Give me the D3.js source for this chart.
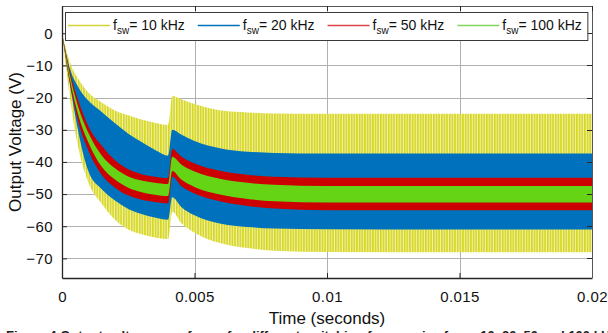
<!DOCTYPE html>
<html>
<head>
<meta charset="utf-8">
<script src="https://cdn.jsdelivr.net/npm/d3@7"></script>
<style>
  body { margin: 0; background: #fff; }
  svg { display: block; font-family: "Liberation Sans", Arial, sans-serif; }
</style>
</head>
<body>
<svg id="chart" width="608" height="333"></svg>
<script>
// envelope samples (upper / lower edge of each ripple band)
const times = [0, 0.0003, 0.0006, 0.001, 0.0015, 0.002, 0.0025, 0.003, 0.0035, 0.004,
               0.00416, 0.0045, 0.005, 0.006, 0.007, 0.008, 0.01, 0.015, 0.02];

const upper10 = [0, -9, -14, -18.5, -21.5, -24, -25.5, -26.8, -27.8, -28.5,
                 -19.5, -20.5, -22, -24, -24.6, -24.9, -25, -25, -25];
const lower10 = [0, -20, -35, -46.5, -53, -58, -61, -62.5, -63.5, -64,
                 -55.5, -59, -62, -65.3, -66.8, -67.6, -68, -68.1, -68.1];

const upper20 = [0, -11, -16.5, -21, -24.5, -28, -31.2, -33.8, -36.2, -38,
                 -30, -31.5, -33.5, -35.8, -36.8, -37.2, -37.4, -37.4, -37.4];
const lower20 = [0, -16, -30, -43, -48.5, -52, -54.6, -56.2, -57.3, -58,
                 -51, -54, -56.6, -59.2, -60.2, -60.7, -60.9, -61, -61];

const upper50 = [0, -12, -20.5, -29, -35, -39.5, -42.3, -43.8, -44.6, -45,
                 -36, -38.3, -40.5, -42.8, -44, -44.6, -44.9, -44.9, -44.9];
const lower50 = [0, -15.5, -27, -36.5, -44, -48, -50.4, -51.8, -52.5, -52.9,
                 -44.6, -47.5, -49.8, -52.3, -53.7, -54.5, -55, -55, -55];

const upper100 = [0, -13, -22.5, -31, -38, -42, -44.5, -45.8, -46.5, -46.9,
                  -38.4, -40.8, -43, -45.3, -46.5, -47.1, -47.5, -47.5, -47.5];
const lower100 = [0, -14.5, -25, -34, -41.5, -45.5, -48, -49.4, -50.2, -50.6,
                  -42.8, -45.5, -47.8, -50.2, -51.5, -52.2, -52.6, -52.6, -52.6];

const freqLabels = ["10 kHz", "20 kHz", "50 kHz", "100 kHz"];
const xTicks = [0, 0.005, 0.01, 0.015, 0.02];
const xTickLabels = ["0", "0.005", "0.01", "0.015", "0.02"];
const yTicks = [0, -10, -20, -30, -40, -50, -60, -70];

const series = [
  { label: freqLabels[0], upper: upper10, lower: lower10, color: "#d6d61e", legendColor: "#d4d43a" },
  { label: freqLabels[1], upper: upper20, lower: lower20, color: "#0072bd", legendColor: "#0072bd" },
  { label: freqLabels[2], upper: upper50, lower: lower50, color: "#cc0000", legendColor: "#d9454a" },
  { label: freqLabels[3], upper: upper100, lower: lower100, color: "#64d414", legendColor: "#7fd85a" }
];

const svg = d3.select("#chart");
const W = 608, H = 333;
const margin = { left: 62, top: 6, right: 16, bottom: 55 };

svg.append("rect").attr("width", W).attr("height", H).attr("fill", "#fff");

const x = d3.scaleLinear().domain([0, 0.02]).range([margin.left, W - margin.right]);
const y = d3.scaleLinear().domain([-76.1, 8.5]).range([H - margin.bottom, margin.top]);

const defs = svg.append("defs");
defs.append("clipPath").attr("id", "plotClip")
  .append("rect")
  .attr("x", margin.left).attr("y", margin.top)
  .attr("width", x.range()[1] - x.range()[0])
  .attr("height", y.range()[0] - y.range()[1]);

// 10 kHz ripple: one stripe per switching period
const period = x(1e-4) - x(0);
const pat = defs.append("pattern")
  .attr("id", "stripes10")
  .attr("patternUnits", "userSpaceOnUse")
  .attr("x", margin.left).attr("y", 0)
  .attr("width", period).attr("height", 10);
pat.append("rect").attr("width", period).attr("height", 10).attr("fill", "#f1f1b0");
pat.append("rect").attr("width", period * 0.6).attr("height", 10).attr("fill", series[0].color);

// grid
const grid = svg.append("g").attr("stroke", "#b0b0b0").attr("stroke-width", 1);
grid.selectAll(".gx").data(xTicks.slice(1, -1)).enter().append("line")
  .attr("x1", d => Math.round(x(d)) + 0.5).attr("x2", d => Math.round(x(d)) + 0.5)
  .attr("y1", y.range()[1]).attr("y2", y.range()[0]);
grid.selectAll(".gy").data(yTicks).enter().append("line")
  .attr("x1", x.range()[0]).attr("x2", x.range()[1])
  .attr("y1", d => Math.round(y(d)) + 0.5).attr("y2", d => Math.round(y(d)) + 0.5);

// bands
const area = d3.area()
  .x((d, i) => x(times[i]))
  .y0(d => y(d[1]))
  .y1(d => y(d[0]))
  .curve(d3.curveMonotoneX);

const plot = svg.append("g").attr("clip-path", "url(#plotClip)");
series.forEach((s, k) => {
  const pts = times.map((t, i) => [s.upper[i], s.lower[i]]);
  plot.append("path")
    .attr("d", area(pts))
    .attr("fill", k === 0 ? "url(#stripes10)" : s.color);
});

// axes (inward ticks, box)
const axisColor = "#262626";
const xAxis = svg.append("g")
  .attr("transform", `translate(0,${y.range()[0]})`)
  .call(d3.axisBottom(x).tickValues(xTicks).tickFormat((d, i) => xTickLabels[i])
    .tickSizeInner(-5).tickSizeOuter(0).tickPadding(13));
const yAxis = svg.append("g")
  .attr("transform", `translate(${x.range()[0]},0)`)
  .call(d3.axisLeft(y).tickValues(yTicks).tickSizeInner(-5).tickSizeOuter(0).tickPadding(9));

[xAxis, yAxis].forEach(a => {
  a.selectAll("path").attr("stroke", axisColor).attr("stroke-width", 1.3);
  a.selectAll("line").attr("stroke", axisColor);
  a.selectAll("text")
    .attr("fill", "#111")
    .style("font-size", "15px")
    .style("letter-spacing", "0.4px")
    .style("font-family", "'Liberation Sans', Arial, sans-serif");
});

// top/right box and ticks
const box = svg.append("g").attr("stroke", axisColor).attr("fill", "none");
box.append("line").attr("x1", x.range()[0]).attr("x2", x.range()[1])
  .attr("y1", y.range()[1] + 0.5).attr("y2", y.range()[1] + 0.5).attr("stroke", "#555");
box.append("line").attr("x1", x.range()[1] + 0.5).attr("x2", x.range()[1] + 0.5)
  .attr("y1", y.range()[1]).attr("y2", y.range()[0]).attr("stroke", "#555");
box.selectAll(".rt").data(yTicks).enter().append("line")
  .attr("x1", x.range()[1] - 5).attr("x2", x.range()[1])
  .attr("y1", d => Math.round(y(d)) + 0.5).attr("y2", d => Math.round(y(d)) + 0.5);
box.selectAll(".tt").data(xTicks).enter().append("line")
  .attr("x1", d => Math.round(x(d)) + 0.5).attr("x2", d => Math.round(x(d)) + 0.5)
  .attr("y1", y.range()[1]).attr("y2", y.range()[1] + 5);

// axis titles
svg.append("text")
  .attr("x", (x.range()[0] + x.range()[1]) / 2).attr("y", 324)
  .attr("text-anchor", "middle")
  .style("font-size", "17px").attr("fill", "#111")
  .text("Time (seconds)");
svg.append("text")
  .attr("transform", `translate(21,${(y.range()[0] + y.range()[1]) / 2}) rotate(-90)`)
  .attr("text-anchor", "middle")
  .style("font-size", "17px").attr("fill", "#111")
  .text("Output Voltage (V)");

// legend
const legend = svg.append("g");
const legBox = legend.append("rect")
  .attr("x", 65.5).attr("y", 12.5).attr("height", 28)
  .attr("fill", "#fff").attr("stroke", "#3a3a3a").attr("stroke-width", 1);
let lx = 68;
const ly = 25.5;
series.forEach(s => {
  legend.append("line")
    .attr("x1", lx).attr("x2", lx + 42).attr("y1", ly).attr("y2", ly)
    .attr("stroke", s.legendColor).attr("stroke-width", 1.4);
  const t = legend.append("text")
    .attr("x", lx + 45).attr("y", 30)
    .style("font-size", "14px").attr("fill", "#111");
  t.append("tspan").text("f");
  t.append("tspan").attr("dy", 4).style("font-size", "10px").text("sw");
  t.append("tspan").attr("dy", -4).text("= " + s.label);
  lx = lx + 45 + t.node().getComputedTextLength() + 13;
});
legBox.attr("width", lx - 13 + 6 - 65.5);

// caption (cut off at the bottom of the image)
svg.append("text")
  .attr("x", 6).attr("y", 340)
  .style("font-size", "13px").style("font-weight", "bold").attr("fill", "#222")
  .text("Figure 4 Output voltage waveforms for different switching frequencies fsw = 10, 20, 50 and 100 kHz");
</script>
</body>
</html>
